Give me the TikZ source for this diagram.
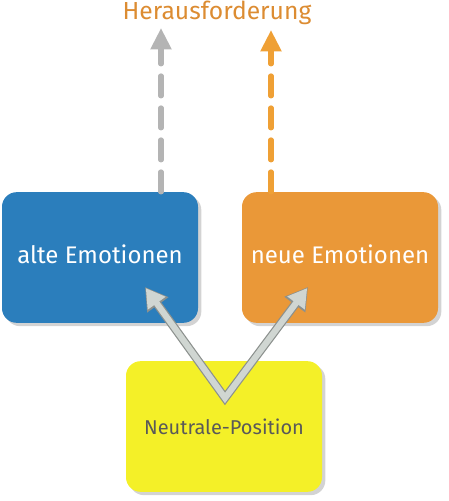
\documentclass[tikz,border=0pt]{standalone}
\usepackage{fontspec}
\setmainfont{Fira Sans}
\usetikzlibrary{arrows.meta,shadows}
\definecolor{altblau}{HTML}{2B7EBC}
\definecolor{neuorange}{HTML}{EA9838}
\definecolor{neutralgelb}{HTML}{F4F028}
\definecolor{pfeilgrau}{HTML}{B4B4B4}
\definecolor{pfeilorange}{HTML}{EFA035}
\definecolor{titelorange}{HTML}{DC8C32}
\definecolor{silber}{HTML}{D0D6D2}
\definecolor{silberrand}{HTML}{8C918E}
\tikzset{
x=0.75pt, y=-0.75pt,
box/.style={rounded corners=11pt, minimum width=147pt, minimum height=98pt,
  drop shadow={shadow xshift=2.5pt, shadow yshift=-2.5pt, opacity=0.35, fill=gray}},
hinweis/.style={line width=3.8pt, line cap=round, dash pattern=on 15pt off 9pt,
  -{Triangle[width=15pt,length=16pt,line cap=butt]}},
}

\begin{document}
\begin{tikzpicture}
        \useasboundingbox (0,0) rectangle (449,501);
        \node[box,fill=altblau,text=white,font=\fontsize{18}{21}\selectfont,text depth=5pt] (alt) at (100,257.5) {alte Emotionen};
        \node[box,fill=neuorange,text=white,font=\fontsize{18}{21}\selectfont,text depth=5pt] (neu) at (340,257.5) {neue Emotionen};
        \node[box,fill=neutralgelb,text=black!65,font=\fontsize{15}{18}\selectfont] (neutral) at (224,426.5) {Neutrale-Position};
        \node[text=titelorange,font=\fontsize{18.5}{21}\selectfont] (titel) at (217,13) {Herausforderung};
        
        \coordinate (altziel) at (161,28);
        \coordinate (neuziel) at (271,30);
        \coordinate (spitze) at (225,398);
        \coordinate (links) at (145,287);
        \coordinate (rechts) at (308,287);
        
        \draw[hinweis,pfeilgrau] (alt.north -| altziel) -- (altziel);
        \draw[hinweis,pfeilorange] (neu.north -| neuziel) -- (neuziel);
        
        \draw[line width=6.4pt,silberrand,line join=miter,
          {Triangle[width=18.5pt,length=16.5pt]}-{Triangle[width=18.5pt,length=16.5pt]}] (links) -- (spitze) -- (rechts);
        \draw[line width=4.6pt,silber,line join=miter,shorten <=1pt,shorten >=1pt,
          {Triangle[width=15.5pt,length=14pt]}-{Triangle[width=15.5pt,length=14pt]}] (links) -- (spitze) -- (rechts);
    \end{tikzpicture}
\end{document}
